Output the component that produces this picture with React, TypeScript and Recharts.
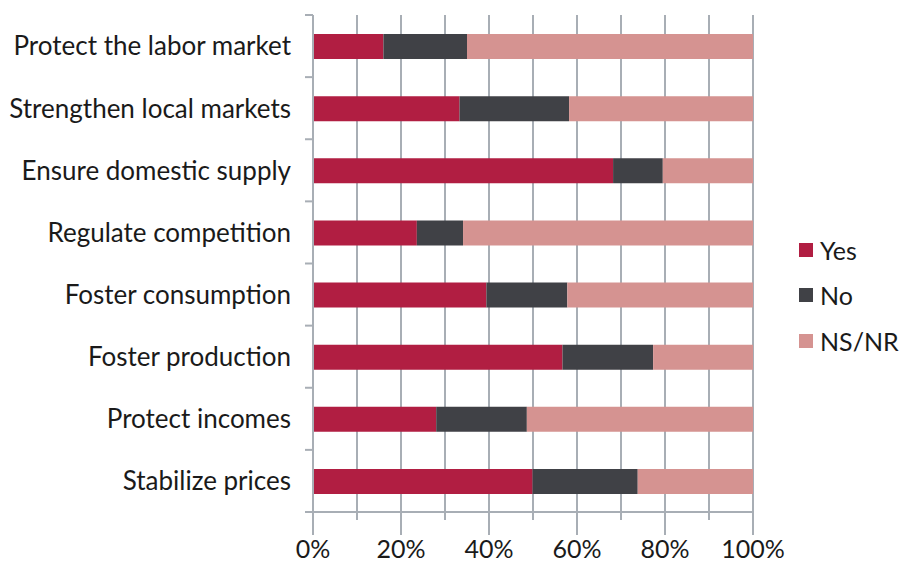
import { Bar, BarChart, CartesianGrid, XAxis, YAxis } from "recharts";

const categories = [
  "Protect the labor market",
  "Strengthen local markets",
  "Ensure domestic supply",
  "Regulate competition",
  "Foster consumption",
  "Foster production",
  "Protect incomes",
  "Stabilize prices",
];
const yes = [16, 33.3, 68.2, 23.6, 39.4, 56.7, 28, 49.9];
const no = [19, 24.9, 11.3, 10.5, 18.4, 20.6, 20.6, 23.9];
const nsnr = [65, 41.8, 20.5, 65.9, 42.2, 22.7, 51.4, 26.2];
const xTicks = [0, 10, 20, 30, 40, 50, 60, 70, 80, 90, 100];

const series = [
  { key: "yes", name: "Yes", color: "#b11e42" },
  { key: "no", name: "No", color: "#404146" },
  { key: "nsnr", name: "NS/NR", color: "#d59391" },
];

const data = categories.map((c, i) => ({ name: c, yes: yes[i], no: no[i], nsnr: nsnr[i] }));

const FONT = "Lato, 'Open Sans', sans-serif";
const GRID = "#a8aeb5";
const INK = "#1a1a1a";

function CatTick(props: any) {
  const { x, y, payload, index } = props;
  const half = payload?.offset ?? 31;
  return (
    <g>
      <line x1={x - 8} x2={x} y1={y - half} y2={y - half} stroke={GRID} strokeWidth={2} />
      {index === categories.length - 1 && (
        <line x1={x - 8} x2={x} y1={y + half} y2={y + half} stroke={GRID} strokeWidth={2} />
      )}
      <text x={x - 22} y={y} dy="0.36em" textAnchor="end" fontSize={26} fill={INK} fontFamily={FONT}>
        {payload.value}
      </text>
    </g>
  );
}

function PctTick(props: any) {
  const { x, y, payload } = props;
  const major = payload.value % 20 === 0;
  return (
    <g>
      <line x1={x} x2={x} y1={y} y2={y + (major ? 23 : 8)} stroke={GRID} strokeWidth={2} />
      {major && (
        <text x={x} y={y + 46} textAnchor="middle" fontSize={25} fill={INK} fontFamily={FONT}>
          {payload.value}%
        </text>
      )}
    </g>
  );
}

export default function App() {
  return (
    <div style={{ position: "absolute", left: 0, top: 0, width: 904, height: 564, background: "#fff" }}>
      <BarChart
        width={904}
        height={564}
        data={data}
        layout="vertical"
        margin={{ top: 15, right: 151, bottom: 0, left: 0 }}
      >
        <CartesianGrid vertical horizontal={false} stroke={GRID} strokeWidth={2} verticalValues={xTicks} />
        <XAxis
          type="number"
          domain={[0, 100]}
          ticks={xTicks}
          interval={0}
          height={52}
          tickSize={0}
          tickMargin={0}
          tickLine={false}
          axisLine={{ stroke: GRID, strokeWidth: 2 }}
          tick={<PctTick />}
        />
        <YAxis
          type="category"
          dataKey="name"
          width={313}
          tickSize={0}
          tickMargin={0}
          tickLine={false}
          interval={0}
          axisLine={{ stroke: GRID, strokeWidth: 2 }}
          tick={<CatTick />}
        />
        {series.map((s) => (
          <Bar key={s.key} dataKey={s.key} name={s.name} stackId="a" fill={s.color} barSize={25} isAnimationActive={false} />
        ))}
      </BarChart>
      <div style={{ position: "absolute", left: 799, top: 227, fontFamily: FONT, fontSize: 25, color: INK }}>
        {series.map((s) => (
          <div key={s.key} style={{ display: "flex", alignItems: "center", height: 45.5 }}>
            <span style={{ width: 14, height: 14, background: s.color, display: "inline-block", marginRight: 7 }} />
            <span>{s.name}</span>
          </div>
        ))}
      </div>
    </div>
  );
}
